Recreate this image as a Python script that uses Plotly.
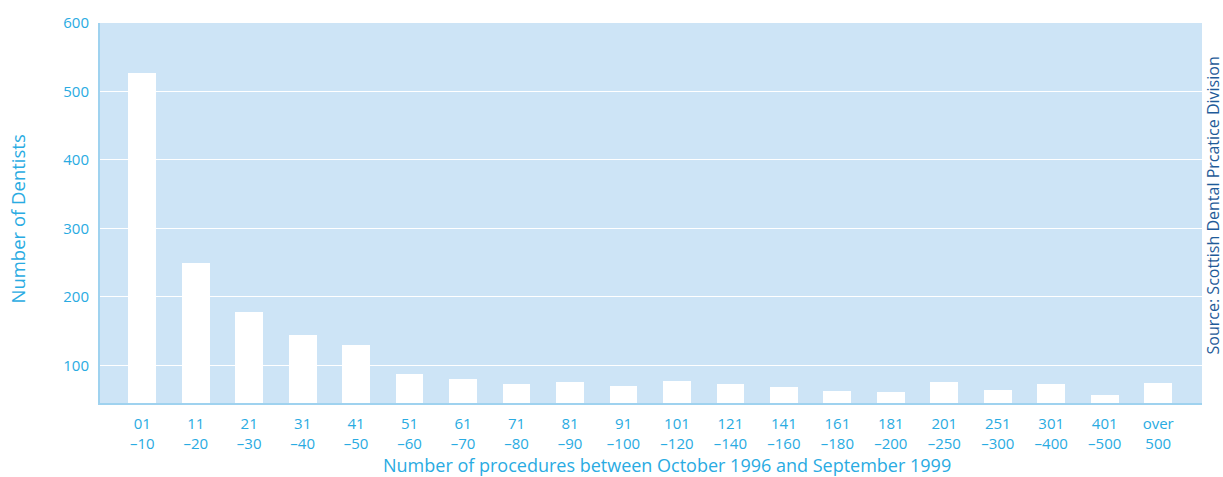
import plotly.graph_objects as go

categories = ["01<br>–10", "11<br>–20", "21<br>–30", "31<br>–40", "41<br>–50",
              "51<br>–60", "61<br>–70", "71<br>–80", "81<br>–90", "91<br>–100",
              "101<br>–120", "121<br>–140", "141<br>–160", "161<br>–180", "181<br>–200",
              "201<br>–250", "251<br>–300", "301<br>–400", "401<br>–500", "over<br>500"]
dentists = [527, 249, 178, 145, 129, 87, 80, 73, 76, 70,
            77, 73, 68, 62, 61, 76, 64, 73, 57, 74]
y_ticks = [100, 200, 300, 400, 500, 600]

LIGHT = "#29abe2"
DARK = "#1f5b99"
FONT = "Open Sans"

fig = go.Figure(go.Bar(
    x=list(range(len(categories))), y=dentists, width=0.52,
    marker=dict(color="white", line=dict(width=0)),
))

fig.update_layout(
    width=1223, height=477,
    margin=dict(l=100, r=21, t=23, b=74, autoexpand=False),
    paper_bgcolor="white", plot_bgcolor="#cde4f6",
    showlegend=False,
    font=dict(family=FONT, color=LIGHT, size=15),
    bargap=0,
)
fig.update_xaxes(
    tickmode="array", tickvals=list(range(len(categories))), ticktext=categories,
    range=[-0.79, 19.82], showgrid=False, zeroline=False, automargin=False,
    showline=True, linecolor="#9fd2ef", linewidth=2, ticks="",
    ticklabelstandoff=6,
    tickfont=dict(size=15, color=LIGHT),
)
fig.update_yaxes(
    range=[45, 600], tickvals=y_ticks, showgrid=True, gridcolor="white", gridwidth=1,
    zeroline=False, showline=True, linecolor="#9fd2ef", linewidth=2, ticks="",
    ticklabelstandoff=6, automargin=False,
    tickfont=dict(size=15, color=LIGHT),
)
fig.add_annotation(
    text="Number of procedures between October 1996 and September 1999",
    xref="paper", yref="paper", x=0.5145, y=0, xanchor="center", yanchor="middle",
    yshift=-62, showarrow=False, font=dict(family=FONT, size=18, color=LIGHT),
)
fig.add_annotation(
    text="Number of Dentists", textangle=-90,
    xref="paper", yref="paper", x=-0.0749, y=0.484, xanchor="center", yanchor="middle",
    showarrow=False, font=dict(family=FONT, size=18.5, color=LIGHT),
)
fig.add_annotation(
    text="Source: Scottish Dental Prcatice Division", textangle=-90,
    xref="paper", yref="paper", x=1.0, y=0.52, xanchor="center", yanchor="middle",
    xshift=11, showarrow=False, font=dict(family=FONT, size=16, color=DARK),
)
fig.write_html("out.html", config={"displayModeBar": False},
               post_script="document.body.style.margin='0';")
